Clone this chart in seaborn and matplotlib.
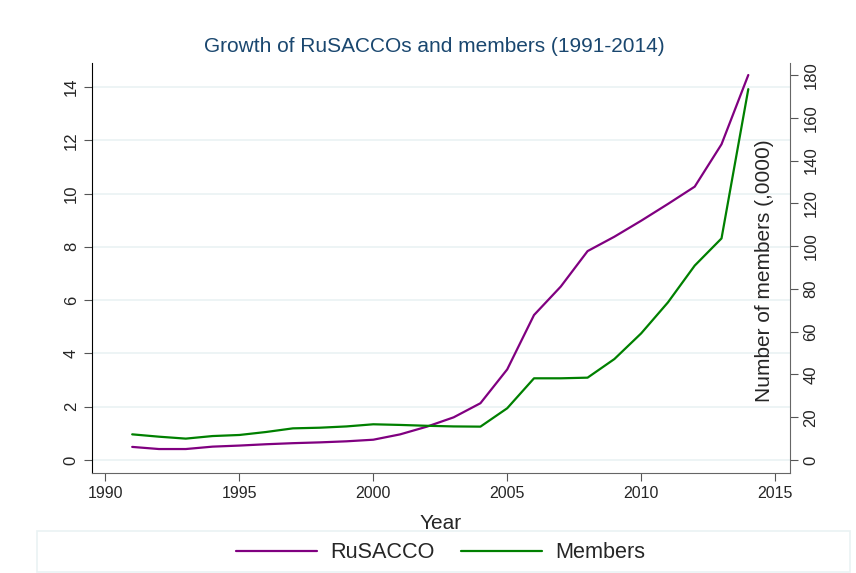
import pandas as pd
import matplotlib
matplotlib.use("Agg")
from matplotlib import pyplot as plt
from matplotlib.patches import Rectangle
import seaborn as sns

# Datos
years = list(range(1991, 2015))
rusacco = [0.49, 0.41, 0.41, 0.50, 0.54, 0.59, 0.63, 0.66, 0.70, 0.76,
           0.96, 1.25, 1.60, 2.13, 3.40, 5.44, 6.51, 7.84, 8.38, 8.98,
           9.61, 10.26, 11.85, 14.45]
members = [12.0, 10.9, 10.0, 11.2, 11.7, 13.1, 14.8, 15.1, 15.7, 16.7,
           16.4, 16.0, 15.7, 15.6, 24.2, 38.2, 38.2, 38.5, 47.2, 59.2,
           73.7, 90.9, 103.6, 173.4]

df = pd.DataFrame({"Year": years, "RuSACCO": rusacco, "Members": members})

sns.set_style("white")
plt.rcParams["font.family"] = ["Liberation Sans", "DejaVu Sans"]

fig = plt.figure(figsize=(8.56, 5.73), dpi=100)
ax = fig.add_axes([0.1075, 0.1745, 0.8155, 0.7155])
ax2 = ax.twinx()

sns.lineplot(data=df, x="Year", y="RuSACCO", ax=ax, color="#800080", linewidth=1.6, label="RuSACCO", legend=False)
sns.lineplot(data=df, x="Year", y="Members", ax=ax2, color="#008000", linewidth=1.6, label="Members", legend=False)

ax.set_xlim(1989.5, 2015.56)
ax.set_ylim(-0.49, 14.9)
ax2.set_ylim(-6.08, 185.6)

ax.set_xticks(range(1990, 2016, 5))
ax.set_yticks(range(0, 15, 2))
ax2.set_yticks(range(0, 181, 20))

ax.grid(axis="y", color="#eaf2f3", linewidth=1.2)
ax.set_axisbelow(True)

ax.tick_params(axis="x", labelsize=11.5, length=6, color="#555555", direction="out", bottom=True)
ax.tick_params(axis="y", labelsize=12, length=6, color="#555555", direction="out", left=True, labelrotation=90)
ax2.tick_params(axis="y", labelsize=12, length=6, color="#555555", direction="out", right=True, labelrotation=90)
for lbl in ax.get_yticklabels() + ax2.get_yticklabels():
    lbl.set_va("center")

for a in (ax, ax2):
    a.spines["top"].set_visible(False)
    a.spines["bottom"].set_color("#666666")
    a.spines["left"].set_color("black")
    a.spines["right"].set_color("#666666")
ax.spines["right"].set_visible(False)
ax2.spines["left"].set_visible(False)
ax2.spines["bottom"].set_visible(False)

ax.set_xlabel("Year", fontsize=15, labelpad=9)
ax.set_ylabel("")
ax2.set_ylabel("")

fig.text(765 / 856, 1 - 271 / 573, "Number of members (,0000)", rotation=90,
         ha="center", va="center", fontsize=15)

fig.text(434 / 856, 1 - 46 / 573, "Growth of RuSACCOs and members (1991-2014)",
         ha="center", va="center", fontsize=15, color="#1a476f")

# Leyenda con recuadro ancho
fig.patches.append(Rectangle((37 / 856, 1 - 572 / 573), (850 - 37) / 856, 41 / 573,
                             transform=fig.transFigure, fill=False,
                             edgecolor="#eaf2f3", linewidth=1.2))
h1, l1 = ax.get_legend_handles_labels()
h2, l2 = ax2.get_legend_handles_labels()
fig.legend(h1 + h2, l1 + l2, loc="center", bbox_to_anchor=(440.5 / 856, 1 - 553 / 573),
           ncol=2, frameon=False, fontsize=15.6, handlelength=3.75, handletextpad=0.6,
           columnspacing=1.25)

fig.savefig("out.png", dpi=100)
